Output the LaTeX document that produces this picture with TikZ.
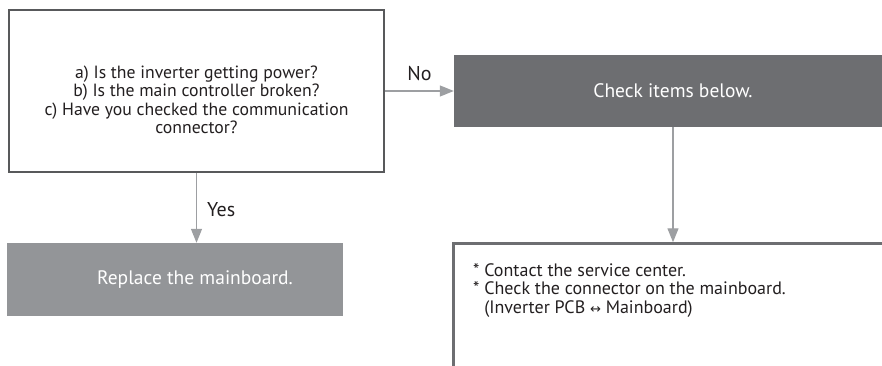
\documentclass[tikz,border=0pt]{standalone}
\usepackage{fontspec}
\setmainfont{PT Sans}
\newfontfamily\symfont{DejaVu Sans}
\usetikzlibrary{arrows.meta}
\definecolor{txt}{HTML}{231F20}
\definecolor{border}{HTML}{58595B}
\definecolor{darkfill}{HTML}{6D6E71}
\definecolor{lightfill}{HTML}{939598}
\definecolor{arrowc}{HTML}{9D9FA2}
\tikzset{
  qbox/.style={draw=border, line width=2.5pt, fill=white, minimum width=375pt, minimum height=162pt, inner sep=0pt},
  darkbox/.style={fill=darkfill, minimum width=438pt, minimum height=72pt, inner sep=0pt},
  lightbox/.style={fill=lightfill, minimum width=336pt, minimum height=73pt, inner sep=0pt},
  openbox/.style={draw=darkfill, line width=2.5pt, minimum width=439pt, minimum height=133pt, inner sep=0pt},
  flowarrow/.style={draw=arrowc, line width=1.3pt, -{Triangle[length=14pt,width=11pt]}},
  lbl/.style={text=txt, inner sep=0pt},
  qfont/.style={font=\fontsize{17.7}{18.4}\selectfont},
  boxfont/.style={font=\fontsize{19.5}{22}\selectfont, text=white, inner sep=0pt},
  ynfont/.style={font=\fontsize{20}{22}\selectfont},
  itemfont/.style={font=\fontsize{18}{18.6}\selectfont}
}
\begin{document}
\begin{tikzpicture}[x=1pt,y=-1pt]
\useasboundingbox (0,0) rectangle (882,366);
\clip (0,0) rectangle (882,366);
\node[qbox] (q) at (196.5,91) {};
\node[lbl, qfont, align=center] (qtext) at (196.5,100) {a) Is the inverter getting power?\\b) Is the main controller broken?\\c) Have you checked the communication\\connector?};
\node[darkbox] (check) at (673,91) {};
\node[boxfont] (checktext) at (673,91) {Check items below.};
\node[lightbox] (rep) at (175,279.5) {};
\node[boxfont] (reptext) at (195,279.5) {Replace the mainboard.};
\node[openbox] (items) at (673,310) {};
\node[lbl, itemfont, anchor=west, align=left] (itemstext) at (473,290.5) {* Contact the service center.\\* Check the connector on the mainboard.\\\phantom{* }(Inverter PCB {\symfont\fontsize{13}{18.6}\selectfont ↔} Mainboard)};
\draw[flowarrow] (q.east) -- (check.west) node[lbl, ynfont, midway, above=10pt] (no) {No};
\draw[flowarrow] (q.south) -- (q.south |- rep.north) node[lbl, ynfont, pos=0.52, right=10pt] (yes) {Yes};
\draw[flowarrow] (check.south) -- (check.south |- items.north);
\end{tikzpicture}
\end{document}
